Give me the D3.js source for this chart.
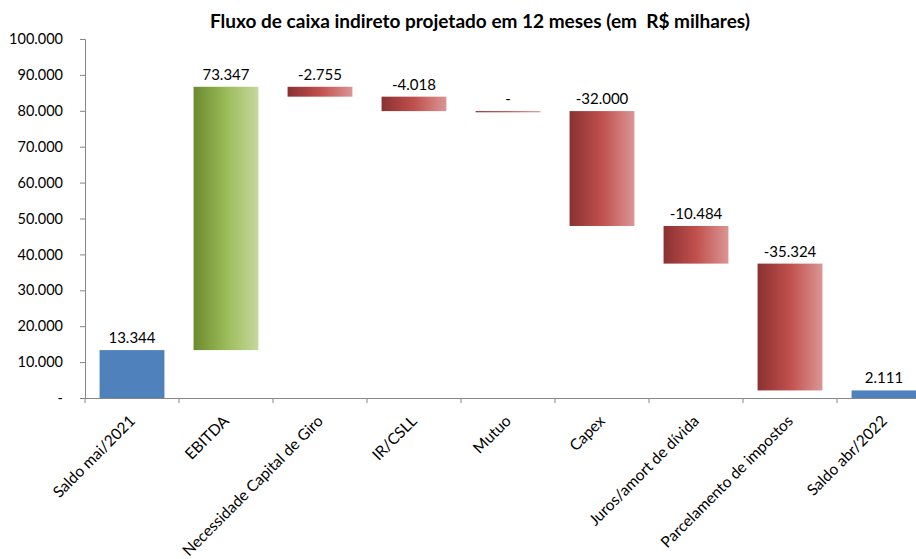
<!DOCTYPE html>
<html>
<head>
<meta charset="utf-8">
<script src="https://cdn.jsdelivr.net/npm/d3@7"></script>
<style>
  body { margin: 0; background: #fff; }
  svg { display: block; font-family: Lato, "Open Sans", sans-serif; }
</style>
</head>
<body>
<div id="chart"></div>
<script>
// Data
var categories = ["Saldo mai/2021", "EBITDA", "Necessidade Capital de Giro", "IR/CSLL", "Mutuo",
  "Capex", "Juros/amort de dívida", "Parcelamento de impostos", "Saldo abr/2022"];
var values = [13344, 73347, -2755, -4018, 0, -32000, -10484, -35324, 2111];
var kinds = ["total", "up", "down", "down", "down", "down", "down", "down", "total"];
var yTicks = [0, 10000, 20000, 30000, 40000, 50000, 60000, 70000, 80000, 90000, 100000];

var w = 916, h = 559;
var margin = { left: 85, top: 39, bottom: 161 };

var svg = d3.select("#chart").append("svg")
  .attr("width", w)
  .attr("height", h);

// gradients
var defs = svg.append("defs");
function grad(id, stops) {
  var g = defs.append("linearGradient").attr("id", id)
    .attr("x1", "0%").attr("x2", "100%").attr("y1", "0%").attr("y2", "0%");
  stops.forEach(function (s) {
    g.append("stop").attr("offset", s[0]).attr("stop-color", s[1]);
  });
}
grad("gUp", [["0%", "#6a8a2e"], ["50%", "#9bbb59"], ["100%", "#c6d89d"]]);
grad("gDown", [["0%", "#8a3131"], ["50%", "#c0504d"], ["100%", "#da9694"]]);

var x = d3.scaleBand()
  .domain(categories)
  .range([margin.left, margin.left + 94 * 9])
  .paddingInner(0.31)
  .paddingOuter(0.155);

var y = d3.scaleLinear()
  .domain([0, 100000])
  .range([h - margin.bottom, margin.top]);

// running totals for the waterfall
var bars = [];
var run = 0;
values.forEach(function (v, i) {
  var start, end;
  if (kinds[i] === "total") { start = 0; end = v; run = v; }
  else { start = run; end = run + v; run = end; }
  bars.push({ name: categories[i], value: v, kind: kinds[i], lo: Math.min(start, end), hi: Math.max(start, end) });
});

var fmt = function (v) {
  if (v === 0) return "-";
  var s = d3.format(",")(Math.abs(v)).replace(/,/g, ".");
  return (v < 0 ? "-" : "") + s;
};

// Title
svg.append("text")
  .attr("x", 480)
  .attr("y", 28)
  .attr("text-anchor", "middle")
  .attr("font-size", "19px")
  .attr("font-weight", "bold")
  .style("white-space", "pre")
  .text("Fluxo de caixa indireto projetado em 12 meses (em  R$ milhares)");

// Y axis
var yAxis = d3.axisLeft(y)
  .tickValues(yTicks)
  .tickSize(5)
  .tickFormat(fmt);

var gy = svg.append("g")
  .attr("transform", "translate(" + margin.left + ",0)")
  .call(yAxis);
gy.select(".domain").attr("stroke", "#868686");
gy.selectAll(".tick line").attr("stroke", "#868686");
gy.selectAll(".tick text")
  .attr("x", -22)
  .attr("font-size", "14.5px")
  .attr("font-family", "Lato, sans-serif")
  .attr("fill", "#000");

// Bars
svg.selectAll("rect.bar")
  .data(bars)
  .enter()
  .append("rect")
  .attr("class", "bar")
  .attr("x", function (d) { return x(d.name); })
  .attr("width", x.bandwidth())
  .attr("y", function (d) { return y(d.hi); })
  .attr("height", function (d) { return Math.max(1.2, y(d.lo) - y(d.hi)); })
  .style("fill", function (d) {
    if (d.kind === "total") return "#4f81bd";
    return d.kind === "up" ? "url(#gUp)" : "url(#gDown)";
  });

// Data labels
svg.selectAll("text.lbl")
  .data(bars)
  .enter()
  .append("text")
  .attr("class", "lbl")
  .attr("x", function (d) { return x(d.name) + x.bandwidth() / 2; })
  .attr("y", function (d) { return y(d.hi) - 7; })
  .attr("text-anchor", "middle")
  .attr("font-size", "15px")
  .attr("fill", "#000")
  .text(function (d) { return fmt(d.value); });

// X axis
var xAxis = d3.axisBottom(x).tickSize(0).tickSizeOuter(0);
var gx = svg.append("g")
  .attr("transform", "translate(0," + y(0) + ")")
  .call(xAxis);
gx.select(".domain").attr("stroke", "#868686");
gx.selectAll(".tick text").remove();

// boundary tick marks between categories
svg.selectAll("line.xtick")
  .data(d3.range(categories.length + 1))
  .enter()
  .append("line")
  .attr("class", "xtick")
  .attr("x1", function (i) { return margin.left + i * x.step(); })
  .attr("x2", function (i) { return margin.left + i * x.step(); })
  .attr("y1", y(0))
  .attr("y2", y(0) + 5)
  .attr("stroke", "#868686");

// rotated category labels
svg.selectAll("text.cat")
  .data(categories)
  .enter()
  .append("text")
  .attr("class", "cat")
  .attr("text-anchor", "end")
  .attr("font-size", "15.5px")
  .attr("fill", "#000")
  .attr("transform", function (d) {
    return "translate(" + (x(d) + x.bandwidth() / 2 + 4) + "," + (y(0) + 24) + ") rotate(-45)";
  })
  .text(function (d) { return d; });
</script>
</body>
</html>
